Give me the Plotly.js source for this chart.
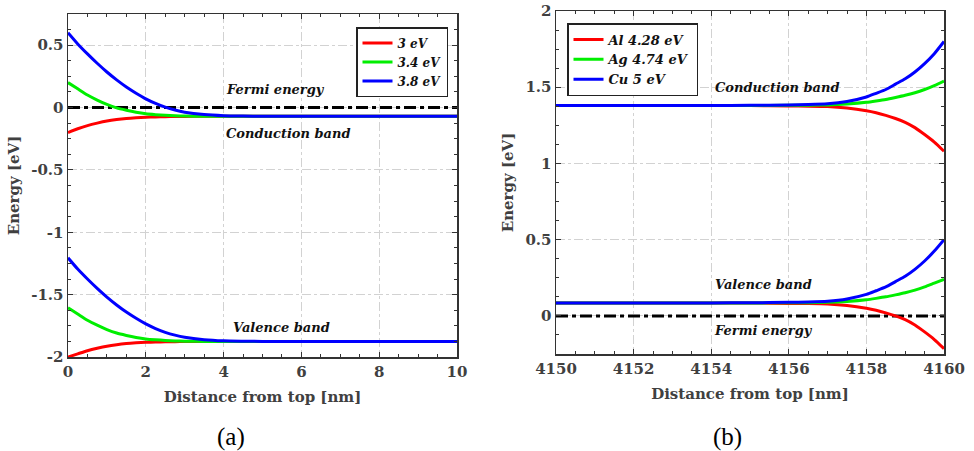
<!DOCTYPE html>
<html><head><meta charset="utf-8">
<script src="https://cdn.plot.ly/plotly-3.0.1.min.js"></script>
<style>html,body{margin:0;padding:0;background:#fff}</style>
</head><body>
<div id="chart" style="width:974px;height:451px"></div>
<script>
// ---- Panel (a) data ----
const xA = [0,0.25,0.5,0.75,1,1.25,1.5,1.75,2,2.25,2.5,2.75,3,3.5,4,4.5,5,6,7,8,9,10];
const cbA_3  = [-0.20,-0.17,-0.145,-0.125,-0.108,-0.096,-0.087,-0.081,-0.077,-0.075,-0.073,-0.072,-0.071,-0.07,-0.07,-0.07,-0.07,-0.07,-0.07,-0.07,-0.07,-0.07];
const cbA_34 = [0.20,0.15,0.10,0.06,0.025,-0.003,-0.022,-0.038,-0.05,-0.057,-0.062,-0.066,-0.068,-0.07,-0.07,-0.07,-0.07,-0.07,-0.07,-0.07,-0.07,-0.07];
const cbA_38 = [0.60,0.51,0.43,0.355,0.285,0.222,0.165,0.115,0.07,0.033,0.003,-0.02,-0.037,-0.056,-0.065,-0.068,-0.07,-0.07,-0.07,-0.07,-0.07,-0.07];
const vbA_3  = [-2.0,-1.975,-1.95,-1.93,-1.913,-1.901,-1.892,-1.886,-1.882,-1.88,-1.878,-1.877,-1.876,-1.875,-1.875,-1.875,-1.875,-1.875,-1.875,-1.875,-1.875,-1.875];
const vbA_34 = [-1.605,-1.655,-1.705,-1.745,-1.78,-1.808,-1.827,-1.843,-1.855,-1.862,-1.867,-1.871,-1.873,-1.875,-1.875,-1.875,-1.875,-1.875,-1.875,-1.875,-1.875,-1.875];
const vbA_38 = [-1.205,-1.295,-1.375,-1.45,-1.52,-1.583,-1.64,-1.69,-1.735,-1.772,-1.802,-1.825,-1.842,-1.861,-1.87,-1.873,-1.875,-1.875,-1.875,-1.875,-1.875,-1.875];
const namesA = ["3 eV","3.4 eV","3.8 eV"];
const fermiAx = [0,10], fermiAy = [0,0];

// ---- Panel (b) data ----
const xB = [4150,4151,4152,4153,4154,4155,4156,4156.5,4157,4157.5,4158,4158.25,4158.5,4158.75,4159,4159.25,4159.5,4159.75,4160];
const cbB_Al = [1.38,1.38,1.38,1.38,1.38,1.38,1.377,1.376,1.373,1.363,1.345,1.332,1.315,1.295,1.27,1.235,1.19,1.14,1.08];
const cbB_Ag = [1.38,1.38,1.38,1.38,1.38,1.38,1.381,1.382,1.384,1.39,1.401,1.41,1.42,1.433,1.447,1.464,1.485,1.51,1.54];
const cbB_Cu = [1.38,1.38,1.38,1.38,1.38,1.381,1.384,1.386,1.391,1.406,1.436,1.46,1.485,1.52,1.555,1.60,1.655,1.72,1.80];
const vbB_Al = [0.085,0.085,0.085,0.085,0.085,0.085,0.082,0.081,0.078,0.068,0.05,0.037,0.02,0.0,-0.025,-0.06,-0.105,-0.155,-0.215];
const vbB_Ag = [0.085,0.085,0.085,0.085,0.085,0.085,0.086,0.087,0.089,0.095,0.106,0.115,0.125,0.138,0.152,0.169,0.19,0.215,0.24];
const vbB_Cu = [0.085,0.085,0.085,0.085,0.085,0.086,0.089,0.091,0.096,0.111,0.141,0.165,0.19,0.225,0.26,0.305,0.36,0.425,0.50];
const namesB = ["Al 4.28 eV","Ag 4.74 eV","Cu 5 eV"];
const fermiBx = [4150,4160], fermiBy = [0,0];

// ---- tick labels ----
const xTickA = [0,2,4,6,8,10], xTickAText = ["0","2","4","6","8","10"];
const yTickA = [-2,-1.5,-1,-0.5,0,0.5], yTickAText = ["-2","-1.5","-1","-0.5","0","0.5"];
const xTickB = [4150,4152,4154,4156,4158,4160], xTickBText = ["4150","4152","4154","4156","4158","4160"];
const yTickB = [0,0.5,1,1.5,2], yTickBText = ["0","0.5","1","1.5","2"];

const colors = ["#ff0000","#00ee00","#0000ff"];
const SERIF = "DejaVu Serif";
const LW = 3;

function line(x, y, color, xa, ya, name, show, legend, group) {
  return {x, y, type:"scatter", mode:"lines", name, showlegend:show, legend, legendgroup:group,
    line:{color, width:LW, shape:"spline", smoothing:0.6}, xaxis:xa, yaxis:ya, hoverinfo:"skip"};
}
const fermiStyle = {color:"#000", width:3, dash:"12px,4px,4px,4px"};

const data = [
  {x:fermiAx, y:fermiAy, type:"scatter", mode:"lines", line:fermiStyle, showlegend:false, xaxis:"x", yaxis:"y", hoverinfo:"skip"},
  line(xA, cbA_3, colors[0], "x","y", namesA[0], true, "legend", "a0"),
  line(xA, cbA_34, colors[1], "x","y", namesA[1], true, "legend", "a1"),
  line(xA, cbA_38, colors[2], "x","y", namesA[2], true, "legend", "a2"),
  line(xA, vbA_3, colors[0], "x","y", namesA[0], false, "legend", "a0"),
  line(xA, vbA_34, colors[1], "x","y", namesA[1], false, "legend", "a1"),
  line(xA, vbA_38, colors[2], "x","y", namesA[2], false, "legend", "a2"),
  {x:fermiBx, y:fermiBy, type:"scatter", mode:"lines", line:fermiStyle, showlegend:false, xaxis:"x2", yaxis:"y2", hoverinfo:"skip"},
  line(xB, cbB_Al, colors[0], "x2","y2", namesB[0], true, "legend2", "b0"),
  line(xB, cbB_Ag, colors[1], "x2","y2", namesB[1], true, "legend2", "b1"),
  line(xB, cbB_Cu, colors[2], "x2","y2", namesB[2], true, "legend2", "b2"),
  line(xB, vbB_Al, colors[0], "x2","y2", namesB[0], false, "legend2", "b0"),
  line(xB, vbB_Ag, colors[1], "x2","y2", namesB[1], false, "legend2", "b1"),
  line(xB, vbB_Cu, colors[2], "x2","y2", namesB[2], false, "legend2", "b2")
];

const tickFont = {family:SERIF, size:15, weight:"bold", color:"#404040"};
const titleFont = {family:SERIF, size:15, weight:"bold", color:"#404040"};
function axis(extra) {
  return Object.assign({
    showline:true, linecolor:"#333", linewidth:1.5, mirror:"ticks",
    ticks:"inside", ticklen:5, tickwidth:1, tickcolor:"#333",
    showgrid:true, gridcolor:"#d2d2d2", gridwidth:1, griddash:"dashdot",
    zeroline:false, tickfont:tickFont, tickmode:"array", fixedrange:true
  }, extra);
}
const annFont = {family:SERIF, size:13, weight:"bold", style:"italic", color:"#111"};
function ann(text, x, y, xref, yref) {
  return {text, x, y, xref, yref, showarrow:false, xanchor:"left", yanchor:"middle", font:annFont};
}

const layout = {
  width:974, height:451,
  margin:{l:0, r:0, t:0, b:0},
  paper_bgcolor:"#fff", plot_bgcolor:"#fff",
  xaxis: axis({domain:[68/974, 457/974], range:[0,10], tickvals:xTickA, ticktext:xTickAText,
    minor:{ticks:"inside", ticklen:3, tickcolor:"#333", showgrid:false, dtick:0.5, tick0:0},
    title:{text:"Distance from top [nm]", font:titleFont, standoff:12}, anchor:"y"}),
  yaxis: axis({domain:[94/451, 437/451], range:[-2,0.75], tickvals:yTickA, ticktext:yTickAText,
    minor:{ticks:"inside", ticklen:3, tickcolor:"#333", showgrid:false, dtick:0.125, tick0:0},
    title:{text:"Energy [eV]", font:titleFont, standoff:8}, anchor:"x"}),
  xaxis2: axis({domain:[556/974, 944/974], range:[4150,4160], tickvals:xTickB, ticktext:xTickBText,
    minor:{ticks:"inside", ticklen:3, tickcolor:"#333", showgrid:false, dtick:0.5, tick0:4150},
    title:{text:"Distance from top [nm]", font:titleFont, standoff:12}, anchor:"y2"}),
  yaxis2: axis({domain:[97/451, 440/451], range:[-0.25,2], tickvals:yTickB, ticktext:yTickBText,
    minor:{ticks:"inside", ticklen:3, tickcolor:"#333", showgrid:false, dtick:0.125, tick0:0},
    title:{text:"Energy [eV]", font:titleFont, standoff:8}, anchor:"x2"}),
  legend: {x:356/974, y:1-27/451, xanchor:"left", yanchor:"top", bgcolor:"#fff",
    bordercolor:"#222", borderwidth:1.5, font:{family:SERIF, size:12, weight:"bold", style:"italic", color:"#111"},
    tracegroupgap:0, itemwidth:30},
  legend2: {x:567/974, y:1-23/451, xanchor:"left", yanchor:"top", bgcolor:"#fff",
    bordercolor:"#222", borderwidth:1.5, font:{family:SERIF, size:13, weight:"bold", style:"italic", color:"#111"},
    tracegroupgap:0, itemwidth:30},
  annotations: [
    ann("Fermi energy", 4.0, 0.148, "x", "y"),
    ann("Conduction band", 4.0, -0.207, "x", "y"),
    ann("Valence band", 4.2, -1.763, "x", "y"),
    ann("Conduction band", 4154.05, 1.50, "x2", "y2"),
    ann("Valence band", 4154.05, 0.203, "x2", "y2"),
    ann("Fermi energy", 4154.02, -0.098, "x2", "y2"),
    {text:"(a)", x:231/974, y:1-437/451, xref:"paper", yref:"paper", showarrow:false, xanchor:"center", yanchor:"middle",
      font:{family:"Liberation Serif", size:25, color:"#000"}},
    {text:"(b)", x:727/974, y:1-437/451, xref:"paper", yref:"paper", showarrow:false, xanchor:"center", yanchor:"middle",
      font:{family:"Liberation Serif", size:25, color:"#000"}}
  ]
};
Plotly.newPlot("chart", data, layout, {displayModeBar:false, staticPlot:true});
</script>
</body></html>
